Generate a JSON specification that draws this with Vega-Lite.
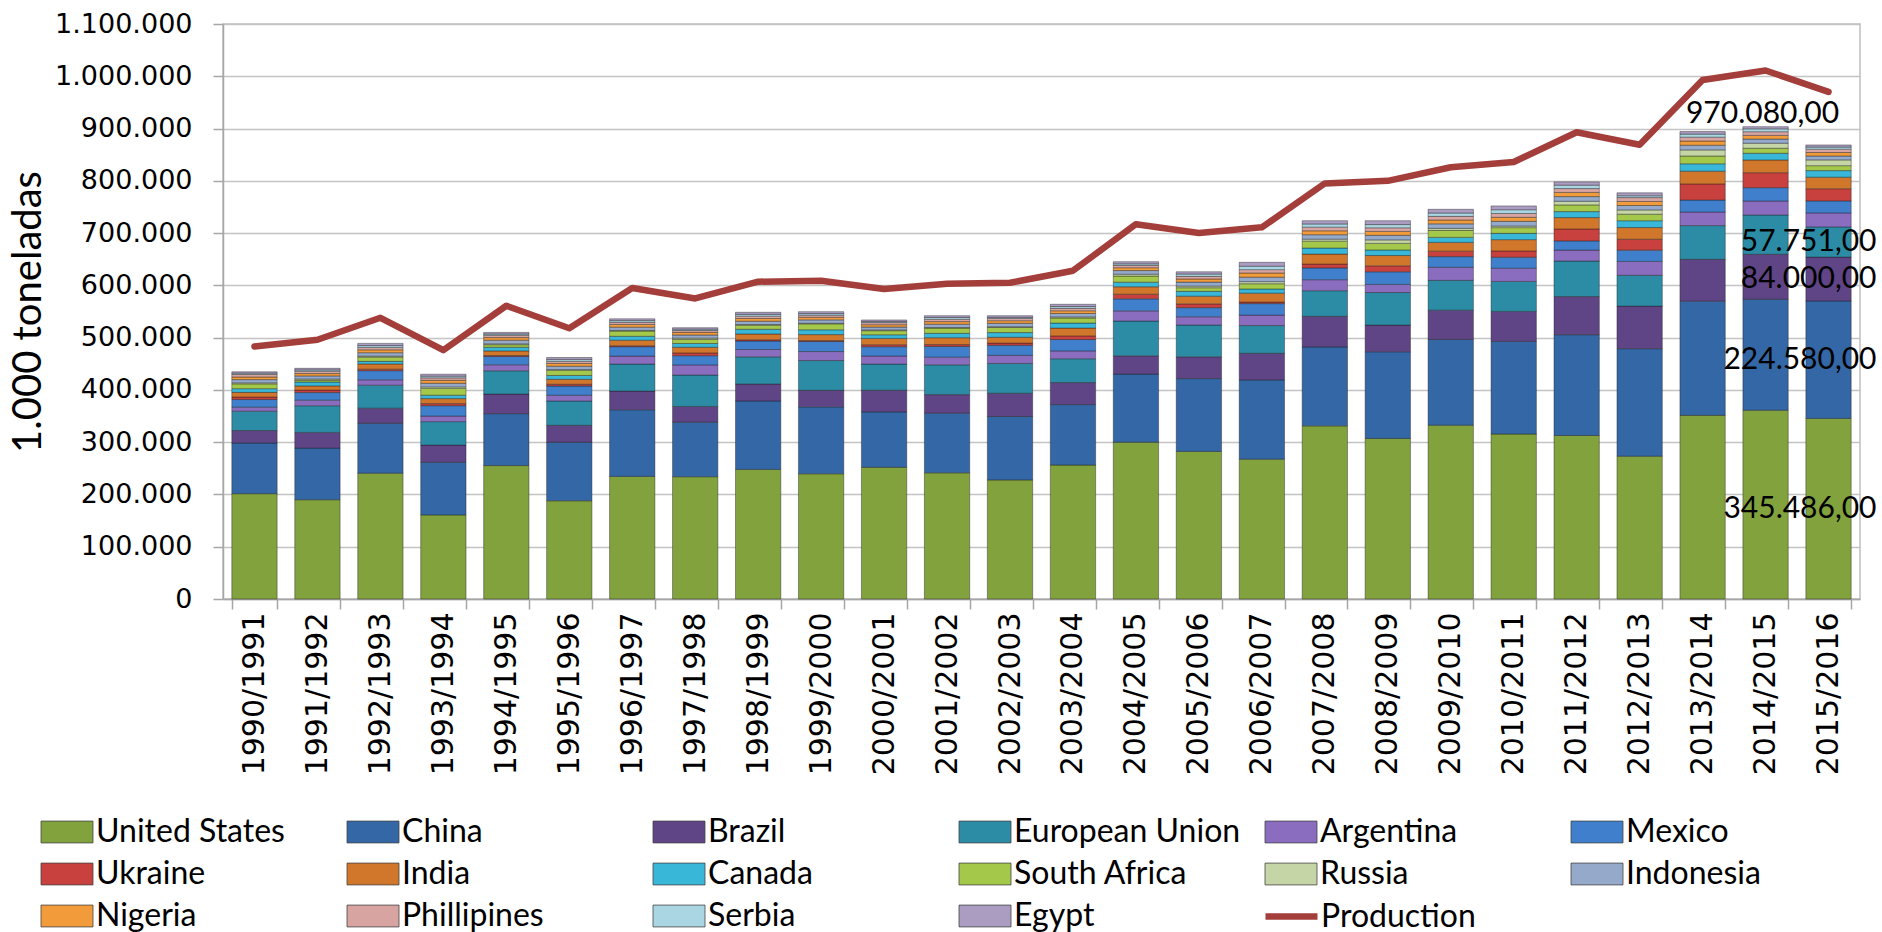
{
  "$schema": "https://vega.github.io/schema/vega-lite/v6.json",
  "width": 1637,
  "height": 575,
  "autosize": {"type": "none"},
  "padding": {"left": 223, "top": 24, "right": 22, "bottom": 333},
  "background": "white",
  "config": {
    "locale": {"number": {"decimal": ",", "thousands": ".", "grouping": [3], "currency": ["", ""]}},
    "view": {"stroke": "#bfbfbf", "strokeWidth": 1.5}
  },
  "datasets": {
    "crops": [
      {"year":"1990/1991","United States":201500,"China":96800,"Brazil":24000,"European Union":37000,"Argentina":7700,"Mexico":14600,"Ukraine":4700,"India":9000,"Canada":7100,"South Africa":9200,"Russia":2000,"Indonesia":6100,"Nigeria":5000,"Phillipines":4800,"Serbia":2500,"Egypt":2600},
      {"year":"1991/1992","United States":189900,"China":98800,"Brazil":30000,"European Union":51000,"Argentina":10700,"Mexico":14500,"Ukraine":4700,"India":8100,"Canada":7400,"South Africa":3200,"Russia":2500,"Indonesia":6000,"Nigeria":4500,"Phillipines":4500,"Serbia":2500,"Egypt":3000},
      {"year":"1992/1993","United States":240700,"China":95400,"Brazil":29000,"European Union":44000,"Argentina":10200,"Mexico":17500,"Ukraine":2900,"India":10000,"Canada":4900,"South Africa":8000,"Russia":2100,"Indonesia":6500,"Nigeria":5500,"Phillipines":4600,"Serbia":3500,"Egypt":4200},
      {"year":"1993/1994","United States":160900,"China":100600,"Brazil":33000,"European Union":44800,"Argentina":10700,"Mexico":19900,"Ukraine":3900,"India":9600,"Canada":6500,"South Africa":13000,"Russia":2900,"Indonesia":6900,"Nigeria":5600,"Phillipines":4800,"Serbia":3200,"Egypt":3700},
      {"year":"1994/1995","United States":255300,"China":99300,"Brazil":37400,"European Union":44600,"Argentina":11500,"Mexico":16000,"Ukraine":1500,"India":9000,"Canada":7000,"South Africa":4900,"Russia":1700,"Indonesia":6900,"Nigeria":5000,"Phillipines":4500,"Serbia":2500,"Egypt":2900},
      {"year":"1995/1996","United States":187900,"China":112000,"Brazil":32400,"European Union":46500,"Argentina":11000,"Mexico":17600,"Ukraine":3400,"India":9500,"Canada":7300,"South Africa":10200,"Russia":1000,"Indonesia":6500,"Nigeria":5300,"Phillipines":4200,"Serbia":3500,"Egypt":3700},
      {"year":"1996/1997","United States":234500,"China":127500,"Brazil":35700,"European Union":51700,"Argentina":15300,"Mexico":18000,"Ukraine":1800,"India":10600,"Canada":7500,"South Africa":10100,"Russia":1100,"Indonesia":6200,"Nigeria":5200,"Phillipines":4100,"Serbia":3300,"Egypt":3400},
      {"year":"1997/1998","United States":233900,"China":104300,"Brazil":30200,"European Union":60000,"Argentina":19400,"Mexico":17700,"Ukraine":5300,"India":10800,"Canada":7200,"South Africa":7700,"Russia":2600,"Indonesia":6000,"Nigeria":5000,"Phillipines":3500,"Serbia":2500,"Egypt":2900},
      {"year":"1998/1999","United States":247900,"China":131000,"Brazil":32400,"European Union":52000,"Argentina":14000,"Mexico":16300,"Ukraine":2300,"India":11100,"Canada":9000,"South Africa":7900,"Russia":1000,"Indonesia":6500,"Nigeria":5200,"Phillipines":4500,"Serbia":3500,"Egypt":3900},
      {"year":"1999/2000","United States":239500,"China":128100,"Brazil":31600,"European Union":57000,"Argentina":17200,"Mexico":19200,"Ukraine":1700,"India":11500,"Canada":9200,"South Africa":11400,"Russia":1100,"Indonesia":6500,"Nigeria":5000,"Phillipines":4000,"Serbia":3000,"Egypt":3700},
      {"year":"2000/2001","United States":251900,"China":106000,"Brazil":41500,"European Union":50000,"Argentina":15400,"Mexico":17900,"Ukraine":3800,"India":12000,"Canada":7000,"South Africa":7800,"Russia":1500,"Indonesia":5500,"Nigeria":4500,"Phillipines":4000,"Serbia":2000,"Egypt":3000},
      {"year":"2001/2002","United States":241400,"China":114100,"Brazil":35500,"European Union":57000,"Argentina":14700,"Mexico":20400,"Ukraine":3600,"India":13200,"Canada":8400,"South Africa":10100,"Russia":800,"Indonesia":6500,"Nigeria":5000,"Phillipines":4500,"Serbia":3400,"Egypt":3400},
      {"year":"2002/2003","United States":227800,"China":121300,"Brazil":44500,"European Union":57000,"Argentina":15500,"Mexico":19300,"Ukraine":4200,"India":11100,"Canada":9000,"South Africa":9700,"Russia":1500,"Indonesia":6500,"Nigeria":5000,"Phillipines":4300,"Serbia":2000,"Egypt":3300},
      {"year":"2003/2004","United States":256200,"China":115800,"Brazil":42100,"European Union":45500,"Argentina":15000,"Mexico":21800,"Ukraine":6900,"India":15000,"Canada":9600,"South Africa":9700,"Russia":2100,"Indonesia":6500,"Nigeria":5200,"Phillipines":4600,"Serbia":3500,"Egypt":4300},
      {"year":"2004/2005","United States":299900,"China":130300,"Brazil":35000,"European Union":66500,"Argentina":19500,"Mexico":23000,"Ukraine":8900,"India":14200,"Canada":8800,"South Africa":11700,"Russia":3500,"Indonesia":7000,"Nigeria":5500,"Phillipines":4500,"Serbia":3000,"Egypt":4000},
      {"year":"2005/2006","United States":282300,"China":139400,"Brazil":41700,"European Union":60700,"Argentina":15800,"Mexico":17500,"Ukraine":7200,"India":14700,"Canada":9300,"South Africa":6900,"Russia":3200,"Indonesia":7500,"Nigeria":6000,"Phillipines":5000,"Serbia":4500,"Egypt":4300},
      {"year":"2006/2007","United States":267500,"China":151600,"Brazil":51000,"European Union":53000,"Argentina":20000,"Mexico":22000,"Ukraine":3000,"India":17000,"Canada":8000,"South Africa":10000,"Russia":4000,"Indonesia":8500,"Nigeria":8000,"Phillipines":6500,"Serbia":6500,"Egypt":7500},
      {"year":"2007/2008","United States":331200,"China":151000,"Brazil":58600,"European Union":49000,"Argentina":21000,"Mexico":22600,"Ukraine":7400,"India":19000,"Canada":11600,"South Africa":13200,"Russia":3800,"Indonesia":8500,"Nigeria":7500,"Phillipines":7000,"Serbia":6100,"Egypt":6200},
      {"year":"2008/2009","United States":307100,"China":165900,"Brazil":51000,"European Union":62300,"Argentina":15500,"Mexico":24200,"Ukraine":11400,"India":19700,"Canada":10600,"South Africa":12600,"Russia":6700,"Indonesia":8700,"Nigeria":7500,"Phillipines":6900,"Serbia":6200,"Egypt":7400},
      {"year":"2009/2010","United States":332500,"China":164000,"Brazil":56100,"European Union":57000,"Argentina":25000,"Mexico":20400,"Ukraine":10500,"India":16700,"Canada":9600,"South Africa":13400,"Russia":4000,"Indonesia":8500,"Nigeria":7300,"Phillipines":7000,"Serbia":6400,"Egypt":7100},
      {"year":"2010/2011","United States":315600,"China":177200,"Brazil":57400,"European Union":57400,"Argentina":25200,"Mexico":21100,"Ukraine":11900,"India":21700,"Canada":12000,"South Africa":10900,"Russia":3100,"Indonesia":9000,"Nigeria":7700,"Phillipines":7300,"Serbia":7200,"Egypt":7300},
      {"year":"2011/2012","United States":312800,"China":192800,"Brazil":73000,"European Union":67900,"Argentina":21000,"Mexico":17600,"Ukraine":22800,"India":21800,"Canada":11400,"South Africa":12800,"Russia":7000,"Indonesia":8900,"Nigeria":8000,"Phillipines":7400,"Serbia":6500,"Egypt":6200},
      {"year":"2012/2013","United States":273200,"China":205600,"Brazil":81500,"European Union":59000,"Argentina":26500,"Mexico":21600,"Ukraine":20900,"India":22300,"Canada":13100,"South Africa":12400,"Russia":8200,"Indonesia":8500,"Nigeria":7700,"Phillipines":7400,"Serbia":3500,"Egypt":5600},
      {"year":"2013/2014","United States":351300,"China":218500,"Brazil":80000,"European Union":64500,"Argentina":26000,"Mexico":22900,"Ukraine":30900,"India":24300,"Canada":14200,"South Africa":14900,"Russia":11600,"Indonesia":9000,"Nigeria":8000,"Phillipines":7400,"Serbia":5900,"Egypt":4800},
      {"year":"2014/2015","United States":361100,"China":212300,"Brazil":86000,"European Union":75200,"Argentina":26800,"Mexico":25500,"Ukraine":28700,"India":24300,"Canada":12800,"South Africa":9600,"Russia":9600,"Indonesia":8000,"Nigeria":7000,"Phillipines":7000,"Serbia":5500,"Egypt":4200},
      {"year":"2015/2016","United States":345486,"China":224580,"Brazil":84000,"European Union":57751,"Argentina":26800,"Mexico":23000,"Ukraine":23300,"India":22000,"Canada":12600,"South Africa":9500,"Russia":11000,"Indonesia":7500,"Nigeria":6600,"Phillipines":6500,"Serbia":4000,"Egypt":4000}
    ],
    "production": [
      {"year":"1990/1991","production":483000},
      {"year":"1991/1992","production":496000},
      {"year":"1992/1993","production":538000},
      {"year":"1993/1994","production":476000},
      {"year":"1994/1995","production":561000},
      {"year":"1995/1996","production":518000},
      {"year":"1996/1997","production":595000},
      {"year":"1997/1998","production":575000},
      {"year":"1998/1999","production":607000},
      {"year":"1999/2000","production":609000},
      {"year":"2000/2001","production":593000},
      {"year":"2001/2002","production":603000},
      {"year":"2002/2003","production":605000},
      {"year":"2003/2004","production":628000},
      {"year":"2004/2005","production":717000},
      {"year":"2005/2006","production":700000},
      {"year":"2006/2007","production":711000},
      {"year":"2007/2008","production":795000},
      {"year":"2008/2009","production":800000},
      {"year":"2009/2010","production":826000},
      {"year":"2010/2011","production":836000},
      {"year":"2011/2012","production":893000},
      {"year":"2012/2013","production":869000},
      {"year":"2013/2014","production":993000},
      {"year":"2014/2015","production":1011000},
      {"year":"2015/2016","production":970080}
    ]
  },
  "layer": [
    {
      "data": {"name": "crops"},
      "transform": [
        {"fold": ["United States","China","Brazil","European Union","Argentina","Mexico","Ukraine","India","Canada","South Africa","Russia","Indonesia","Nigeria","Phillipines","Serbia","Egypt"], "as": ["country", "value"]},
        {"window": [{"op": "row_number", "as": "rank"}], "groupby": ["year"]}
      ],
      "mark": {"type": "bar", "stroke": "#1a1a1a", "strokeWidth": 0.8, "strokeOpacity": 0.5},
      "encoding": {
        "x": {
          "field": "year", "type": "nominal", "title": null,
          "scale": {"paddingInner": 0.28, "paddingOuter": 0.14},
          "axis": {
            "labelAngle": -90, "labelFont": "DejaVu Sans", "labelFontSize": 30, "labelColor": "black",
            "labelPadding": 3, "tickSize": 10, "tickBand": "extent", "tickColor": "#a6a6a6", "tickWidth": 1.5,
            "domainColor": "#a6a6a6", "domainWidth": 1.5, "grid": false
          }
        },
        "y": {
          "field": "value", "type": "quantitative", "stack": "zero", "title": "1.000 toneladas",
          "scale": {"domain": [0, 1100000], "nice": false},
          "axis": {
            "values": [0,100000,200000,300000,400000,500000,600000,700000,800000,900000,1000000,1100000],
            "format": ",d", "labelFont": "DejaVu Sans", "labelFontSize": 27, "labelColor": "black",
            "labelPadding": 21, "tickSize": 10, "tickColor": "#a6a6a6", "tickWidth": 1.5,
            "domainColor": "#a6a6a6", "domainWidth": 1.5,
            "grid": true, "gridColor": "#c4c4c4", "gridWidth": 1.5,
            "titleFont": "Lato", "titleFontSize": 40, "titleFontWeight": "normal",
            "titleColor": "black", "titlePadding": 6
          }
        },
        "color": {
          "field": "country", "type": "nominal",
          "scale": {
            "domain": ["United States","China","Brazil","European Union","Argentina","Mexico","Ukraine","India","Canada","South Africa","Russia","Indonesia","Nigeria","Phillipines","Serbia","Egypt"],
            "range": ["#82a23e","#3467a5","#5f4585","#2c8ca5","#8b6dc0","#3f7fcb","#c8413e","#d0772c","#38b7d8","#a4c84a","#c6d5a6","#95a9cb","#f29b3b","#d8a4a2","#aad6e3","#ab9cc2"]
          },
          "legend": {
            "title": null, "orient": "none", "legendX": -172, "legendY": 792, "columns": 6, "direction": "horizontal",
            "gridAlign": "all", "columnPadding": 22, "rowPadding": 10, "padding": 0,
            "labelFont": "Lato", "labelFontSize": 32, "labelColor": "black",
            "labelOffset": 13, "labelLimit": 400, "symbolSize": 676,
            "symbolType": "M-2,-0.84H2V0.84H-2Z", "symbolStrokeWidth": 0.8, "symbolStrokeColor": "#444444", "symbolOpacity": 1
          }
        },
        "order": {"field": "rank", "type": "quantitative"}
      }
    },
    {
      "data": {"name": "production"},
      "mark": {"type": "line", "strokeWidth": 6.5, "strokeCap": "round", "strokeJoin": "round"},
      "encoding": {
        "x": {"field": "year", "type": "nominal", "title": null},
        "y": {"field": "production", "type": "quantitative", "title": "1.000 toneladas"},
        "stroke": {
          "datum": "Production", "type": "nominal",
          "scale": {"domain": ["Production"], "range": ["#a33e3b"]},
          "legend": {
            "title": null, "orient": "none", "legendX": 1052, "legendY": 876, "padding": 0,
            "labelFont": "Lato", "labelFontSize": 32, "labelColor": "black",
            "labelOffset": 13, "labelLimit": 400, "symbolSize": 676,
            "symbolType": "M-2,0H2", "symbolStrokeWidth": 6.5, "symbolStrokeColor": "#a33e3b"
          }
        }
      }
    },
    {
      "data": {"name": "crops"},
      "transform": [
        {"fold": ["United States","China","Brazil","European Union","Argentina","Mexico","Ukraine","India","Canada","South Africa","Russia","Indonesia","Nigeria","Phillipines","Serbia","Egypt"], "as": ["country", "value"]},
        {"window": [{"op": "row_number", "as": "rank"}], "groupby": ["year"]},
        {"filter": {"field": "year", "equal": "2015/2016"}},
        {"stack": "value", "groupby": ["year"], "sort": [{"field": "rank", "order": "ascending"}], "as": ["v0", "v1"]},
        {"filter": {"field": "rank", "lte": 4}},
        {"fold": ["v0", "v1"], "as": ["edge", "pos"]}
      ],
      "mark": {"type": "text", "align": "right", "baseline": "middle", "dx": 48, "font": "Lato", "fontSize": 30, "color": "black"},
      "encoding": {
        "x": {"field": "year", "type": "nominal", "title": null},
        "y": {"aggregate": "mean", "field": "pos", "type": "quantitative", "stack": null, "title": "1.000 toneladas"},
        "detail": {"field": "country", "type": "nominal"},
        "text": {"aggregate": "max", "field": "value", "type": "quantitative", "format": ",.2f"}
      }
    },
    {
      "data": {"name": "production"},
      "transform": [{"filter": {"field": "year", "equal": "2015/2016"}}],
      "mark": {"type": "text", "align": "center", "baseline": "middle", "dx": -66, "dy": 22, "font": "Lato", "fontSize": 30, "color": "black"},
      "encoding": {
        "x": {"field": "year", "type": "nominal", "title": null},
        "y": {"field": "production", "type": "quantitative", "title": "1.000 toneladas"},
        "text": {"field": "production", "type": "quantitative", "format": ",.2f"}
      }
    }
  ]
}
